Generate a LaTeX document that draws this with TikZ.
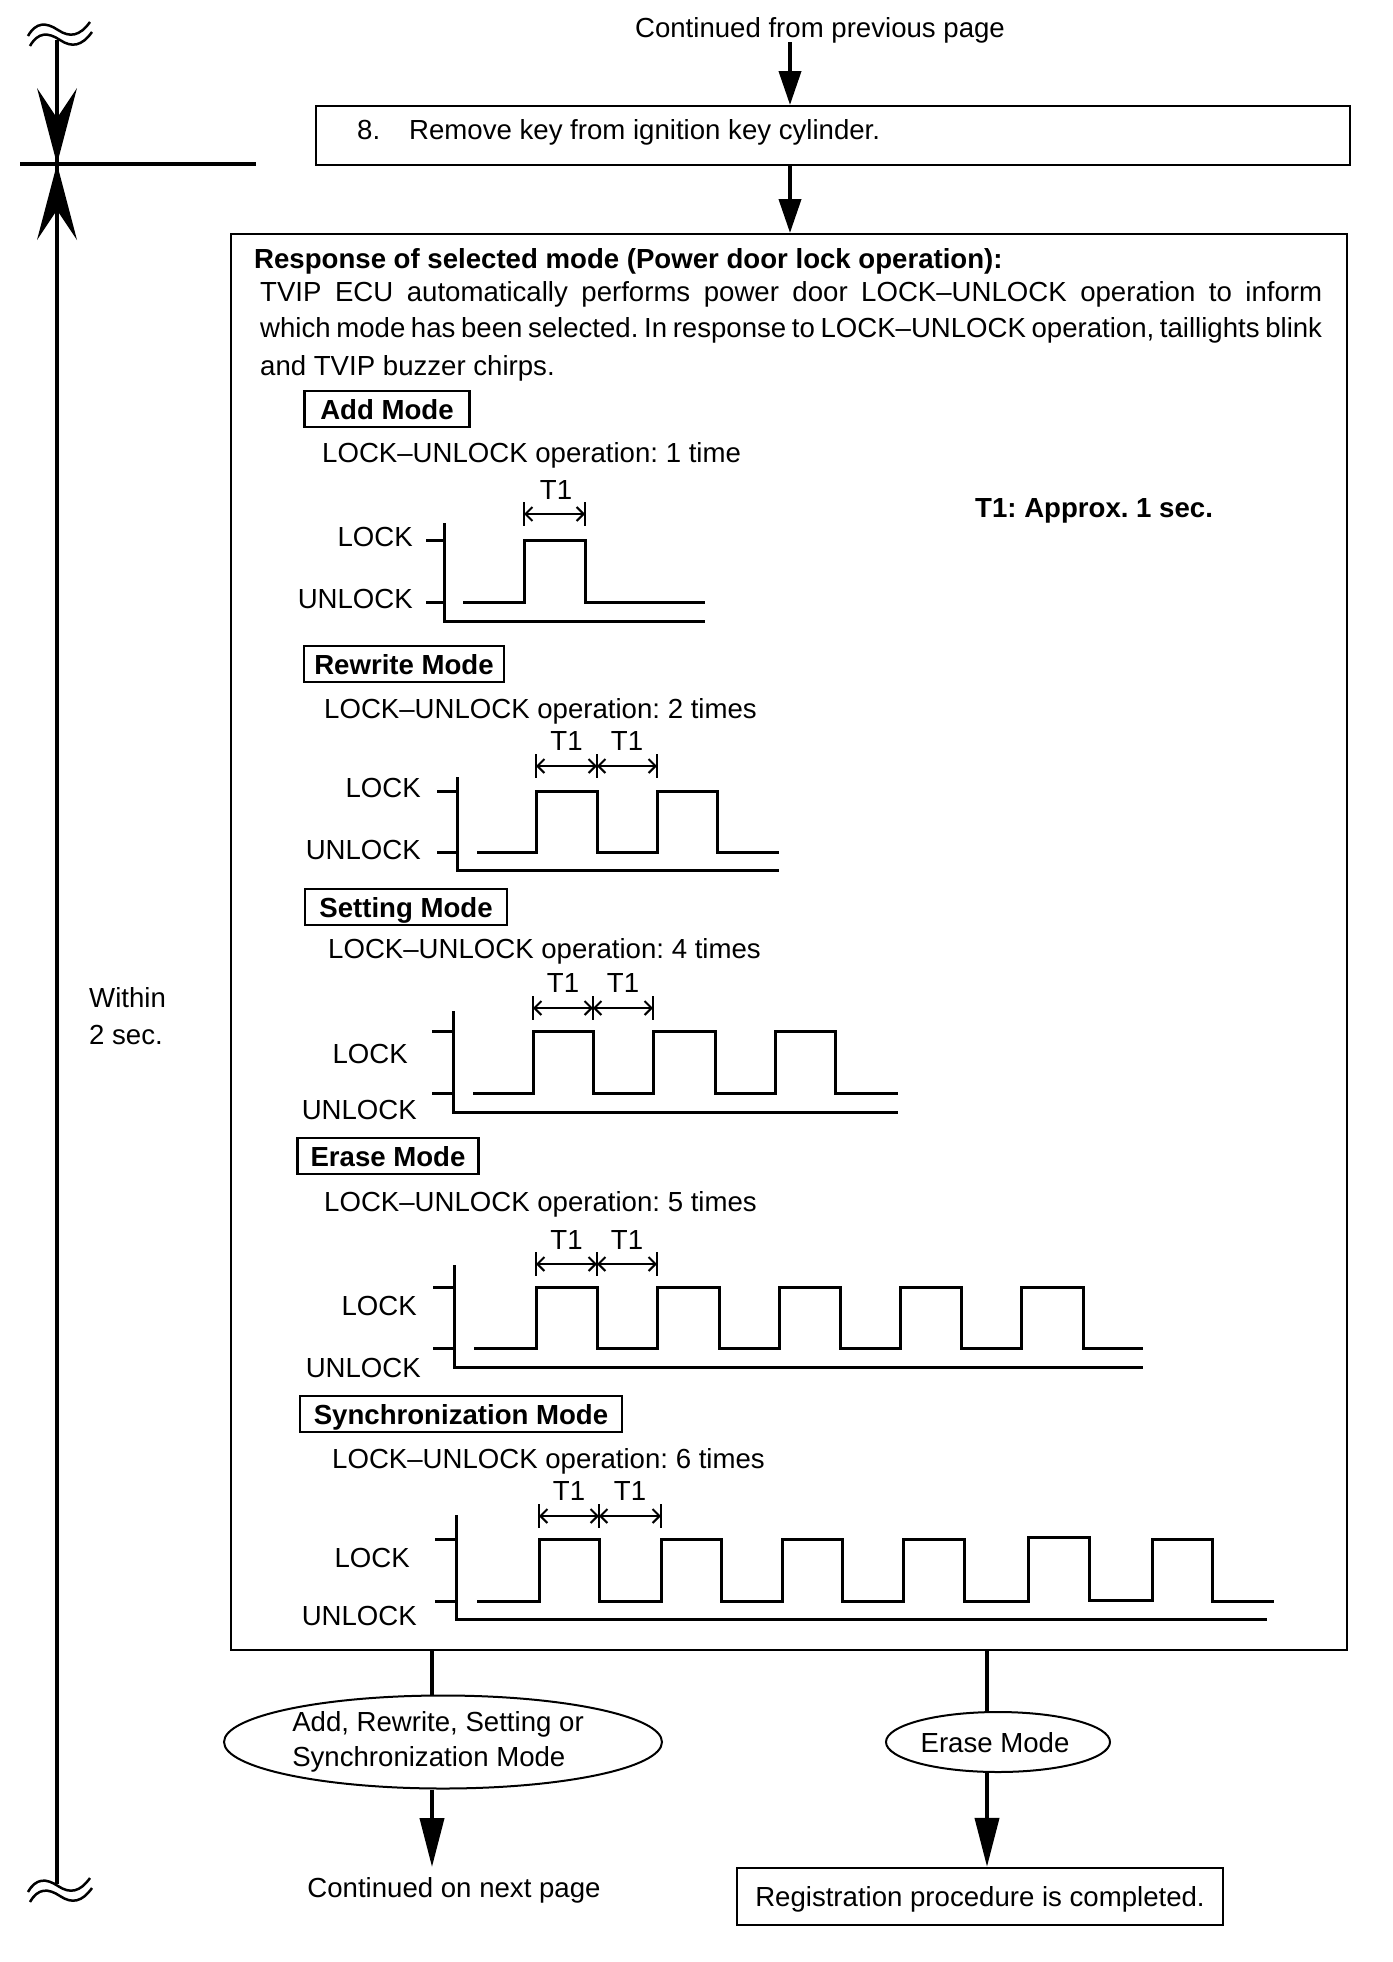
\documentclass[tikz,border=0pt]{standalone}
\usepackage{fontspec}
\setmainfont{Liberation Sans}
\usetikzlibrary{arrows.meta,shapes.geometric}
\frenchspacing
\begin{document}
\begin{tikzpicture}[x=1pt,y=-1pt,
  t/.style={inner sep=0pt, font=\fontsize{27.6}{37}\selectfont},
  tb/.style={inner sep=0pt, font=\fontsize{27.6}{37}\selectfont\bfseries},
  box/.style={draw, line width=2.4pt, inner sep=0pt},
  modebox/.style={box, font=\fontsize{27.6}{37}\selectfont\bfseries, text height=20pt, text depth=0pt, minimum height=36pt},
  conn/.style={line width=4pt},
  arr/.style={conn, -{Triangle[length=34pt,width=22pt]}},
  arrl/.style={conn, -{Triangle[length=49pt,width=24pt]}},
  sig/.style={line width=3pt},
  axisline/.style={line width=3pt},
  dimar/.style={line width=2pt, {Straight Barb[length=7pt,width=14pt]}-{Straight Barb[length=7pt,width=14pt]}},
  dtick/.style={line width=2pt},
  wave/.style={line width=2.5pt},
]
\useasboundingbox (0,0) rectangle (1392,1962);

% ---------- top flow ----------
\node[t, anchor=base] (cfp) at (820,37) {Continued from previous page};
\node[box, anchor=north west, minimum width=1034pt, minimum height=59pt] (b8) at (315,105) {};
\node[t, anchor=base west] (n8) at (357,139) {8.};
\node[t, anchor=base west] (s8) at (409,139) {Remove key from ignition key cylinder.};
\coordinate (a0) at (790,42);
\draw[arr] (a0) -- (a0 |- b8.north);
\node[box, anchor=north west, minimum width=1116pt, minimum height=1416pt] (big) at (230,233) {};
\draw[arr] (a0 |- b8.south) -- (a0 |- big.north);

% ---------- left dimension ----------
\draw[wave] (28,36) .. controls (36,22) and (46,22) .. (58,30) .. controls (70,38) and (80,36) .. (90,22);
\draw[wave] (30,46) .. controls (38,32) and (48,32) .. (60,40) .. controls (72,48) and (82,46) .. (92,32);
\draw[wave] (28,1892) .. controls (36,1878) and (46,1878) .. (58,1886) .. controls (70,1894) and (80,1892) .. (90,1878);
\draw[wave] (30,1902) .. controls (38,1888) and (48,1888) .. (60,1896) .. controls (72,1904) and (82,1902) .. (92,1888);
\draw[conn] (57,40) -- (57,1884);
\draw[conn] (20,164) -- (256,164);
\fill (57,164) -- (37,88) -- (57,118) -- (77,88) -- cycle;
\fill (57,164) -- (37,240) -- (57,210) -- (77,240) -- cycle;
\node[t, anchor=base west] (w1) at (89,1007) {Within};
\node[t, anchor=base west] (w2) at (89,1044) {2 sec.};

% ---------- big box text ----------
\node[tb, anchor=base west] (title) at (254,268) {Response of selected mode (Power door lock operation):};
\node[t, anchor=base west] (p1) at (260,301) {\makebox[1062pt][s]{TVIP ECU automatically performs power door LOCK–UNLOCK operation to inform}};
\node[t, anchor=base west] (p2) at (260,337) {\makebox[1062pt][s]{which mode has been selected. In response to LOCK–UNLOCK operation, taillights blink}};
\node[t, anchor=base west] (p3) at (260,375) {and TVIP buzzer chirps.};
\node[tb, anchor=base west] (t1note) at (975,517) {T1: Approx. 1 sec.};

% ---------- Add Mode ----------
\node[modebox, minimum width=165pt] (mAdd) at (387,409) {Add Mode};
\node[t, anchor=base west] (oAdd) at (322,462) {LOCK–UNLOCK operation: 1 time};
\node[t, anchor=base] (tAdd) at (556,499) {T1};
\draw[dtick] (524,502) -- (524,526);
\draw[dtick] (585,502) -- (585,526);
\draw[dimar] (524,514) -- (585,514);
\draw[axisline] (444,523) -- (444,621) -- (705,621);
\draw[axisline] (426,540) -- (444,540);
\draw[axisline] (426,602) -- (444,602);
\node[t, anchor=base east] (lAdd) at (413,546) {LOCK};
\node[t, anchor=base east] (uAdd) at (413,608) {UNLOCK};
\draw[sig] (463,602) -| (524,540) -| (585,602) -- (705,602);

% ---------- Rewrite Mode ----------
\node[modebox, minimum width=200pt] (mRw) at (404,664) {Rewrite Mode};
\node[t, anchor=base west] (oRw) at (324,718) {LOCK–UNLOCK operation: 2 times};
\node[t, anchor=base] (tRw1) at (566.5,750) {T1};
\node[t, anchor=base] (tRw2) at (627,750) {T1};
\foreach \x in {536,597,657} \draw[dtick] (\x,754) -- (\x,778);
\draw[dimar] (536,766) -- (597,766);
\draw[dimar] (597,766) -- (657,766);
\draw[axisline] (457,777) -- (457,870) -- (779,870);
\draw[axisline] (437,791) -- (457,791);
\draw[axisline] (437,852) -- (457,852);
\node[t, anchor=base east] (lRw) at (421,797) {LOCK};
\node[t, anchor=base east] (uRw) at (421,859) {UNLOCK};
\draw[sig] (477,852) -| (536,791) -| (597,852) -| (657,791) -| (717,852) -- (779,852);

% ---------- Setting Mode ----------
\node[modebox, minimum width=202pt] (mSet) at (406,907) {Setting Mode};
\node[t, anchor=base west] (oSet) at (328,958) {LOCK–UNLOCK operation: 4 times};
\node[t, anchor=base] (tSet1) at (563,992) {T1};
\node[t, anchor=base] (tSet2) at (623,992) {T1};
\foreach \x in {533,593,653} \draw[dtick] (\x,996) -- (\x,1020);
\draw[dimar] (533,1008) -- (593,1008);
\draw[dimar] (593,1008) -- (653,1008);
\draw[axisline] (453,1011) -- (453,1112) -- (898,1112);
\draw[axisline] (432,1031) -- (453,1031);
\draw[axisline] (432,1093) -- (453,1093);
\node[t, anchor=base east] (lSet) at (408,1063) {LOCK};
\node[t, anchor=base east] (uSet) at (417,1119) {UNLOCK};
\draw[sig] (473,1093) -| (533,1031) -| (593,1093) -| (653,1031) -| (715,1093) -| (775,1031) -| (835,1093) -- (898,1093);

% ---------- Erase Mode ----------
\node[modebox, minimum width=181pt] (mEr) at (388,1156) {Erase Mode};
\node[t, anchor=base west] (oEr) at (324,1211) {LOCK–UNLOCK operation: 5 times};
\node[t, anchor=base] (tEr1) at (566.5,1249) {T1};
\node[t, anchor=base] (tEr2) at (627,1249) {T1};
\foreach \x in {536,597,657} \draw[dtick] (\x,1252) -- (\x,1276);
\draw[dimar] (536,1264) -- (597,1264);
\draw[dimar] (597,1264) -- (657,1264);
\draw[axisline] (454,1265) -- (454,1367) -- (1143,1367);
\draw[axisline] (433,1287) -- (454,1287);
\draw[axisline] (433,1348) -- (454,1348);
\node[t, anchor=base east] (lEr) at (417,1315) {LOCK};
\node[t, anchor=base east] (uEr) at (421,1377) {UNLOCK};
\draw[sig] (474,1348) -| (536,1287) -| (597,1348) -| (657,1287) -| (719,1348) -| (779,1287) -| (840,1348) -| (900,1287) -| (961,1348) -| (1021,1287) -| (1083,1348) -- (1143,1348);

% ---------- Synchronization Mode ----------
\node[modebox, minimum width=322pt] (mSy) at (461,1414) {Synchronization Mode};
\node[t, anchor=base west] (oSy) at (332,1468) {LOCK–UNLOCK operation: 6 times};
\node[t, anchor=base] (tSy1) at (569,1500) {T1};
\node[t, anchor=base] (tSy2) at (630,1500) {T1};
\foreach \x in {539,599,661} \draw[dtick] (\x,1504) -- (\x,1528);
\draw[dimar] (539,1516) -- (599,1516);
\draw[dimar] (599,1516) -- (661,1516);
\draw[axisline] (456,1515) -- (456,1619) -- (1267,1619);
\draw[axisline] (435,1539) -- (456,1539);
\draw[axisline] (435,1601) -- (456,1601);
\node[t, anchor=base east] (lSy) at (410,1567) {LOCK};
\node[t, anchor=base east] (uSy) at (417,1625) {UNLOCK};
\draw[sig] (477,1601) -| (539,1539) -| (599,1601) -| (661,1539) -| (721,1601) -| (782,1539) -| (842,1601) -| (903,1539) -| (964,1601) -| (1028,1537) -| (1089,1600) -| (1152,1539) -| (1212,1601) -- (1274,1601);

% ---------- bottom flow ----------
\node[ellipse, draw, line width=2pt, inner sep=0pt, minimum width=438pt, minimum height=93pt, align=left, font=\fontsize{27.6}{35}\selectfont] (e1) at (443,1742) {Add, Rewrite, Setting or\kern10pt\\Synchronization Mode};
\node[ellipse, draw, line width=2pt, inner sep=0pt, minimum width=224pt, minimum height=60pt, font=\fontsize{27.6}{35}\selectfont, text height=20pt, text depth=0pt] (e2) at (998,1742) {Erase Mode\kern6pt};
\node[box, minimum width=486pt, minimum height=57pt, font=\fontsize{27.6}{35}\selectfont, text height=20pt, text depth=0pt] (reg) at (980,1896.5) {Registration procedure is completed.};
\node[t, anchor=base] (cnp) at (454,1897) {Continued on next page};
\coordinate (cL) at (432,0);
\coordinate (cR) at (987,0);
\coordinate (endL) at (432,1867);
\draw[conn] (cL |- big.south) -- (cL |- e1.north);
\draw[arrl] (cL |- e1.south) -- (endL);
\draw[conn] (cR |- big.south) -- (cR |- e2.north);
\draw[arrl] (cR |- e2.south) -- (cR |- reg.north);
\end{tikzpicture}
\end{document}
